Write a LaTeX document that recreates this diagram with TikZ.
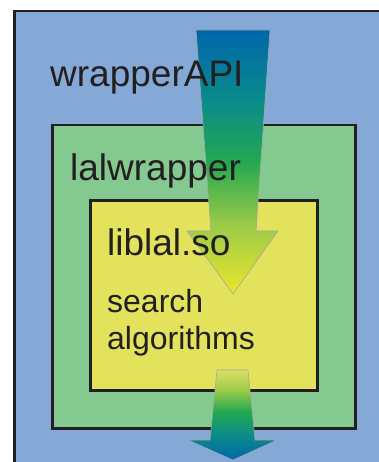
\documentclass[tikz,border=0pt]{standalone}
\usepackage{fontspec}
\setmainfont{Liberation Sans}
\usetikzlibrary{positioning}

\definecolor{apiblue}{HTML}{85A9D7}
\definecolor{lalgreen}{HTML}{83C990}
\definecolor{libyellow}{HTML}{E2E25C}
\definecolor{inkdark}{HTML}{231F20}
\definecolor{flowblue}{HTML}{0066AA}
\definecolor{flowteal}{HTML}{0A8A8C}
\definecolor{flowgreen}{HTML}{24A850}
\definecolor{flowlime}{HTML}{9CCB48}
\definecolor{flowyellow}{HTML}{EAE62A}
\definecolor{flowpale}{HTML}{DCE064}

\pgfdeclareverticalshading{flowin}{100bp}{color(0bp)=(flowyellow); color(25bp)=(flowyellow);
  color(38bp)=(flowlime); color(50bp)=(flowgreen); color(62bp)=(flowteal);
  color(75bp)=(flowblue); color(100bp)=(flowblue)}
\pgfdeclareverticalshading{flowout}{100bp}{color(0bp)=(flowblue); color(25bp)=(flowblue);
  color(38bp)=(flowteal); color(52bp)=(flowgreen); color(64bp)=(flowlime);
  color(75bp)=(flowpale); color(100bp)=(flowpale)}

\tikzset{
  layer/.style={draw=inkdark, line width=2.5pt, rectangle, anchor=north west, inner sep=0pt},
  layername/.style={anchor=base west, inner sep=0pt, text=inkdark, font=\fontsize{37}{44}\selectfont},
  layernote/.style={anchor=base west, inner sep=0pt, text=inkdark, font=\fontsize{32}{38}\selectfont},
  flow/.style={draw=black!35, line width=0.6pt}
}

\begin{document}
\begin{tikzpicture}[x=1pt, y=-1pt]
  \useasboundingbox (0,0) rectangle (379,462);
  \clip (0,0) rectangle (379,462);

  % nested layers
  \node (wrapperapi) [layer, fill=apiblue, minimum width=400pt, minimum height=480pt] at (13,10) {};
  \node (lalwrapper) [layer, fill=lalgreen, minimum width=303pt, minimum height=303pt] at (51,124) {};
  \node (liblal) [layer, fill=libyellow, minimum width=227pt, minimum height=190pt] at (89,199) {};

  % call going in and result coming out
  \shade[flow, shading=flowin] (196,30) -- (270,30) -- (256,231) -- (278,231) -- (233,294)
    -- (187,231) -- (211,231) -- cycle;
  \shade[flow, shading=flowout] (217,370) -- (248,370) -- (255,440) -- (277,440) -- (233,460)
    -- (188,440) -- (210,440) -- cycle;

  % labels
  \node (apiname) [layername] at (50,87) {wrapperAPI};
  \node (lalname) [layername] at (70,180) {lalwrapper};
  \node (libname) [layername] at (107,255) {liblal.so};
  \node (search) [layernote] at (107,312) {search};
  \node (algos) [layernote] at (107,349) {algorithms};
\end{tikzpicture}
\end{document}
